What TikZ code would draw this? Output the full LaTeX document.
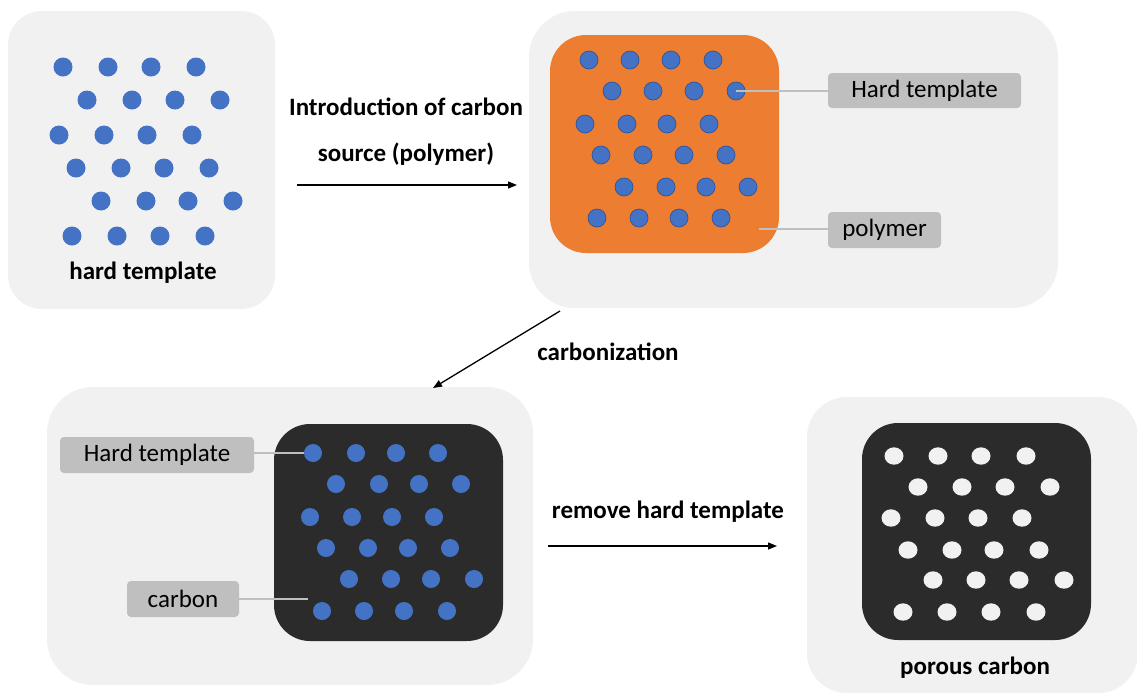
\documentclass[tikz,border=0pt]{standalone}
\usepackage{fontspec}
\setmainfont{Carlito}
\usetikzlibrary{arrows.meta}
\definecolor{panelbg}{HTML}{F1F1F1}
\definecolor{dotblue}{HTML}{4472C4}
\definecolor{dotedge}{HTML}{2F5597}
\definecolor{polyorange}{HTML}{ED7D31}
\definecolor{carbondark}{HTML}{2B2B2B}
\definecolor{lblgray}{HTML}{BFBFBF}
\tikzset{
  panel/.style={fill=panelbg, draw=none, rounded corners=40pt, inner sep=0pt},
  core/.style={draw=none, rounded corners=36pt, inner sep=0pt},
  lbl/.style={fill=lblgray, draw=none, rounded corners=4pt, inner sep=0pt, font=\fontsize{25}{29}\selectfont},
  leader/.style={draw=lblgray, line width=1.6pt},
  caption/.style={font=\bfseries\fontsize{25}{29}\selectfont, inner sep=0pt},
  flow/.style={draw=black, line width=1.3pt, -{Triangle[length=9pt,width=7pt]}},
}
\begin{document}
\begin{tikzpicture}[x=1pt,y=-1pt]
\useasboundingbox (0,0) rectangle (1137,694);
\fill[white] (0,0) rectangle (1137,694);

% panels
\node[panel, minimum width=267pt, minimum height=298pt, rounded corners=34pt] (p1) at (141.5,160) {};
\node[panel, minimum width=529pt, minimum height=297pt, rounded corners=46pt] (p2) at (793.5,159.5) {};
\node[panel, minimum width=486pt, minimum height=298pt, rounded corners=46pt] (p3) at (290,536) {};
\node[panel, minimum width=331pt, minimum height=296pt, rounded corners=40pt] (p4) at (972.5,545) {};

% cores
\node[core, fill=polyorange, minimum width=229pt, minimum height=218pt] (c2) at (664.5,144) {};
\node[core, fill=carbondark, minimum width=229pt, minimum height=217pt] (c3) at (388.5,532.5) {};
\node[core, fill=carbondark, minimum width=229pt, minimum height=217pt] (c4) at (976.5,531.5) {};

% panel 1 dots
\foreach \x/\y in {63/67,108/67,151/67,196/67,
                   87/100,132/100,175/100,220/100,
                   59/135,104/135,147/135,192/135,
                   76/168,121/168,164/168,209/168,
                   101/201,146/201,188/201,233/201,
                   72/236,117/236,160/236,205/236}
  \fill[dotblue] (\x,\y) circle (9.5pt);

% panel 2 dots
\foreach \x/\y in {589/60,630/60,671/60,713/60,
                   612/91,653/91,694/91,736/91,
                   585/124,627/124,667/124,709/124,
                   601/155,643/155,684/155,726/155,
                   624/187,666/187,706/187,748/187,
                   597/218,639/218,679/218,721/218}
  \filldraw[fill=dotblue, draw=dotedge, line width=0.7pt] (\x,\y) circle (9pt);

% panel 2 labels
\node[lbl, minimum width=193pt, minimum height=35pt] (l2a) at (924.5,90.5) {Hard template};
\node[lbl, minimum width=113pt, minimum height=36pt] (l2b) at (884.5,230) {polymer};
\coordinate (t2a) at (736,91);
\coordinate (t2b) at (759,229);
\draw[leader] (t2a) -- (l2a.west |- t2a);
\draw[leader] (t2b) -- (l2b.west |- t2b);

% panel 3 labels and leaders
\node[lbl, minimum width=194pt, minimum height=36pt] (l3a) at (157,455) {Hard template};
\node[lbl, minimum width=112pt, minimum height=36pt] (l3b) at (183,599) {carbon};
\coordinate (t3a) at (313,453);
\coordinate (t3b) at (308,599);
\draw[leader] (l3a.east |- t3a) -- (t3a);
\draw[leader] (l3b.east |- t3b) -- (t3b);

% panel 3 dots
\foreach \x/\y in {313/453,356/453,396/453,438/453,
                   336/484,379/484,419/484,461/484,
                   310/517,352/517,392/517,434/517,
                   326/548,368/548,408/548,450/548,
                   349/579,391/579,431/579,474/579,
                   322/611,364/611,404/611,447/611}
  \fill[dotblue] (\x,\y) circle (9pt);

% panel 4 pores
\foreach \x/\y in {894/456,938/456,981/456,1026/456,
                   918/487,962/487,1005/487,1050/487,
                   891/518,935/518,978/518,1022/518,
                   908/550,952/550,994/550,1039/550,
                   933/580,976/580,1019/580,1064/580,
                   903/612,947/612,991/612,1036/612}
  \fill[panelbg] (\x,\y) ellipse (9.5pt and 8.7pt);

% captions
\node[caption] (cap1) at (143,273) {hard template};
\node[caption] (cap4) at (975,668) {porous carbon};

% arrows and their texts
\coordinate (a1s) at (297,185);
\coordinate (a1e) at (517,185);
\draw[flow] (a1s) -- (a1e);
\node[caption] (s1a) at (406,107) {Introduction of carbon};
\node[caption] (s1b) at (406,154) {source (polymer)};

\coordinate (a2s) at (560,311);
\coordinate (a2e) at (433,388);
\draw[flow] (a2s) -- (a2e);
\node[caption] (s2) at (608,352) {carbonization};

\coordinate (a3s) at (548,546);
\coordinate (a3e) at (777,546);
\draw[flow] (a3s) -- (a3e);
\node[caption] (s3) at (668,512) {remove hard template};
\end{tikzpicture}
\end{document}
